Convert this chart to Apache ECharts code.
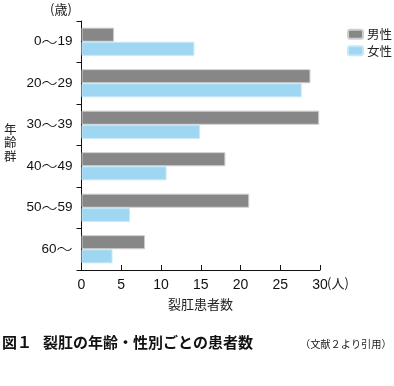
<!DOCTYPE html>
<html>
<head>
<meta charset="utf-8">
<script src="https://cdn.jsdelivr.net/npm/echarts@6/dist/echarts.min.js"></script>
<style>
html,body{margin:0;padding:0;background:#fff;}
#chart{width:394px;height:386px;}
</style>
</head>
<body>
<div id="chart"></div>
<script>
const categories = ['0～19', '20～29', '30～39', '40～49', '50～59', '60～'];
const maleValues = [4.1, 28.8, 29.9, 18.1, 21.1, 8];
const femaleValues = [14.2, 27.7, 14.9, 10.7, 6.1, 3.9];
const xTicks = [0, 5, 10, 15, 20, 25, 30];
const seriesNames = ['男性', '女性'];

const FONT = '"Liberation Sans","Noto Sans CJK JP",sans-serif';
const CJK = '"Noto Sans CJK JP",sans-serif';

const chart = echarts.init(document.getElementById('chart'), null, {renderer: 'canvas'});
chart.setOption({
  animation: false,
  backgroundColor: '#fff',
  grid: {left: 81.5, right: 74, top: 21, bottom: 116, containLabel: false},
  legend: {
    orient: 'vertical', left: 347, top: 28, padding: 0,
    itemWidth: 15, itemHeight: 9, itemGap: 4,
    textStyle: {fontFamily: CJK, fontSize: 12.5, color: '#222', padding: [0, 0, 0, -1]},
    data: seriesNames
  },
  xAxis: {
    type: 'value', min: xTicks[0], max: xTicks[xTicks.length - 1], interval: 5,
    axisLine: {show: true, lineStyle: {color: '#111', width: 1}},
    axisTick: {show: true, inside: true, length: 5, lineStyle: {color: '#111'}},
    axisLabel: {fontFamily: FONT, fontSize: 14, color: '#111', margin: 8},
    splitLine: {show: false}
  },
  yAxis: {
    type: 'category', inverse: true, data: categories,
    axisLine: {show: true, lineStyle: {color: '#111', width: 1}},
    axisTick: {show: true, length: 5, lineStyle: {color: '#111'}},
    axisLabel: {
      fontFamily: FONT, fontSize: 13.5, color: '#111', margin: 9,
      formatter: v => v.replace('～', '{t|～}'),
      rich: {t: {fontFamily: CJK, fontSize: 16, fontWeight: 300, color: '#111'}}
    }
  },
  series: [
    {
      name: seriesNames[0], type: 'bar', data: maleValues,
      barGap: '0%', barCategoryGap: '32%',
      itemStyle: {color: '#878787', borderColor: '#cfcfcf', borderWidth: 1}
    },
    {
      name: seriesNames[1], type: 'bar', data: femaleValues,
      itemStyle: {color: '#9fd7f3', borderColor: '#c4e8f8', borderWidth: 1}
    }
  ],
  graphic: [
    {type: 'text', left: 50, top: 3, style: {text: '(歳)', font: '13px ' + CJK, fill: '#222'}},
    {type: 'text', left: 327, top: 277, style: {text: '(人)', font: '13px ' + CJK, fill: '#222'}},
    {type: 'text', left: 4, top: 122, style: {text: '年\n齢\n群', font: '12.5px ' + CJK, fill: '#222', lineHeight: 13.5}},
    {type: 'text', left: 168, top: 298, style: {text: '裂肛患者数', font: '13px ' + CJK, fill: '#222'}},
    {type: 'text', left: 2, top: 335, style: {text: '図１', font: 'bold 15px ' + CJK, fill: '#111'}},
    {type: 'text', left: 43, top: 335, style: {text: '裂肛の年齢・性別ごとの患者数', font: 'bold 15px ' + CJK, fill: '#111'}},
    {type: 'text', left: 300, top: 339, style: {text: '（文献２より引用）', font: '10.2px ' + CJK, fill: '#222'}}
  ]
});
</script>
</body>
</html>
